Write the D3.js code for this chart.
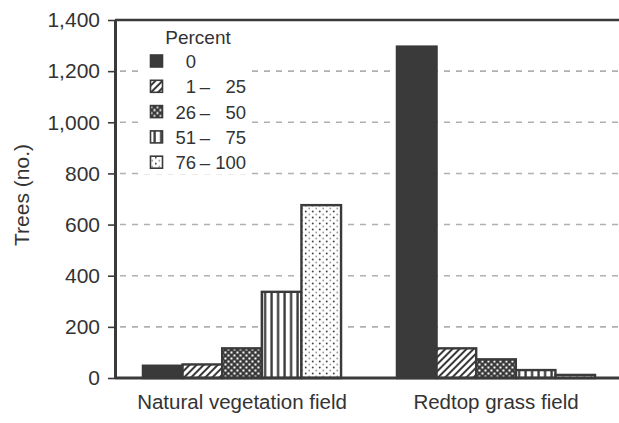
<!DOCTYPE html>
<html>
<head>
<meta charset="utf-8">
<script src="https://cdn.jsdelivr.net/npm/d3@7"></script>
<style>
  html, body { margin: 0; padding: 0; background: #fff; }
  svg text { font-family: "Liberation Sans", Arial, Helvetica, sans-serif; fill: #333; }
</style>
</head>
<body>
<div id="chart"></div>
<script>
const groups = ['Natural vegetation field', 'Redtop grass field'];
const categories = ['0', '1-25', '26-50', '51-75', '76-100'];
const legendLow = ['0', '1', '26', '51', '76'];
const legendHigh = ['', '25', '50', '75', '100'];
const naturalValues = [48, 53, 116, 337, 676];
const redtopValues = [1296, 116, 73, 31, 12];
const yTicks = [0, 200, 400, 600, 800, 1000, 1200, 1400];

const width = 619;
const height = 423;
const margin = { top: 20, right: 0, bottom: 45, left: 115 };
const ink = '#3a3a3a';

const svg = d3.select('#chart').append('svg').attr('width', width).attr('height', height);

/* Patterns
=========================================================================*/
const defs = svg.append('defs');
const fills = ['solid', 'hatch', 'checks', 'vlines', 'dots'];

const hatch = defs.append('pattern').attr('id', 'hatch').attr('patternUnits', 'userSpaceOnUse')
  .attr('width', 5).attr('height', 5).attr('patternTransform', 'rotate(45)');
hatch.append('rect').attr('width', 5).attr('height', 5).attr('fill', '#fff');
hatch.append('rect').attr('width', 2).attr('height', 5).attr('fill', ink);

const checks = defs.append('pattern').attr('id', 'checks').attr('patternUnits', 'userSpaceOnUse')
  .attr('width', 6).attr('height', 6);
checks.append('rect').attr('width', 6).attr('height', 6).attr('fill', ink);
checks.append('rect').attr('x', 0.5).attr('y', 0.5).attr('width', 2).attr('height', 2).attr('fill', '#fff');
checks.append('rect').attr('x', 3.5).attr('y', 3.5).attr('width', 2).attr('height', 2).attr('fill', '#fff');

const vlines = defs.append('pattern').attr('id', 'vlines').attr('patternUnits', 'userSpaceOnUse')
  .attr('width', 6.5).attr('height', 6.5);
vlines.append('rect').attr('width', 6.5).attr('height', 6.5).attr('fill', '#fff');
vlines.append('rect').attr('x', 4).attr('width', 2.3).attr('height', 6.5).attr('fill', ink);

const dots = defs.append('pattern').attr('id', 'dots').attr('patternUnits', 'userSpaceOnUse')
  .attr('width', 7).attr('height', 6);
dots.append('rect').attr('width', 7).attr('height', 6).attr('fill', '#fff');
dots.append('circle').attr('cx', 1.8).attr('cy', 1.5).attr('r', 0.9).attr('fill', ink);
dots.append('circle').attr('cx', 5.3).attr('cy', 4.5).attr('r', 0.9).attr('fill', '#999');

const fillFor = (i) => (fills[i] === 'solid' ? ink : `url(#${fills[i]})`);

/* Scales
=========================================================================*/
const yScale = d3.scaleLinear().domain([0, 1400]).range([378, margin.top]);
const x0 = d3.scaleBand().domain(groups).range([margin.left, 623]).paddingInner(0.22).paddingOuter(0.11);
const x1 = d3.scaleBand().domain(categories).range([0, x0.bandwidth()]);

/* Grid
=========================================================================*/
svg.append('g')
  .selectAll('line')
  .data(yTicks.filter((t) => t > 0 && t < 1400))
  .enter()
  .append('line')
  .attr('x1', margin.left + 5)
  .attr('x2', width)
  .attr('y1', (d) => yScale(d))
  .attr('y2', (d) => yScale(d))
  .attr('stroke', '#b0b0b0')
  .attr('stroke-width', 1.6)
  .attr('stroke-dasharray', '6,6');

/* Bars
=========================================================================*/
const series = [naturalValues, redtopValues];

svg.append('g')
  .selectAll('g')
  .data(groups)
  .enter()
  .append('g')
  .attr('transform', (g) => `translate(${x0(g)},0)`)
  .selectAll('rect')
  .data((g, gi) => series[gi].map((v, i) => ({ v, i })))
  .enter()
  .append('rect')
  .attr('x', (d) => x1(categories[d.i]))
  .attr('y', (d) => yScale(d.v))
  .attr('width', x1.bandwidth())
  .attr('height', (d) => yScale(0) - yScale(d.v))
  .attr('fill', (d) => fillFor(d.i))
  .attr('stroke', ink)
  .attr('stroke-width', 2.4);

/* Axes
=========================================================================*/
const yAxis = d3.axisLeft(yScale).tickValues(yTicks).tickFormat(d3.format(',')).tickSize(7).tickPadding(8).tickSizeOuter(0);

const yG = svg.append('g').attr('transform', `translate(${margin.left},0)`).call(yAxis);
yG.attr('font-family', null);
yG.select('.domain').attr('stroke', ink).attr('stroke-width', 3);
yG.selectAll('.tick line').attr('stroke', ink).attr('stroke-width', 1.6);
yG.selectAll('.tick text').attr('font-size', 21).attr('fill', '#333');

// frame top + baseline
svg.append('line').attr('x1', margin.left).attr('x2', width).attr('y1', yScale(1400)).attr('y2', yScale(1400))
  .attr('stroke', ink).attr('stroke-width', 2.5);
svg.append('line').attr('x1', margin.left).attr('x2', width).attr('y1', yScale(0)).attr('y2', yScale(0))
  .attr('stroke', ink).attr('stroke-width', 3);

svg.append('g')
  .selectAll('text')
  .data(groups)
  .enter()
  .append('text')
  .attr('x', (g) => x0(g) + x0.bandwidth() / 2)
  .attr('y', 409)
  .attr('text-anchor', 'middle')
  .attr('font-size', 20.5)
  .text((g) => g);

svg.append('text')
  .attr('transform', 'translate(29,195) rotate(-90)')
  .attr('text-anchor', 'middle')
  .attr('font-size', 21)
  .text('Trees (no.)');

/* Legend
=========================================================================*/
const legend = svg.append('g');
legend.append('rect').attr('x', 140).attr('y', 24).attr('width', 112).attr('height', 150).attr('fill', '#fff');
legend.append('text').attr('x', 198).attr('y', 44).attr('text-anchor', 'middle').attr('font-size', 19).text('Percent');

const rows = legend.selectAll('g.row')
  .data(categories)
  .enter()
  .append('g')
  .attr('class', 'row')
  .attr('transform', (d, i) => `translate(0,${61 + i * 25.3})`);

rows.append('rect')
  .attr('x', 150.5).attr('y', -6).attr('width', 12).attr('height', 12)
  .attr('fill', (d, i) => fillFor(i))
  .attr('stroke', ink).attr('stroke-width', 1.6);

rows.append('text').attr('x', 196).attr('y', 7).attr('text-anchor', 'end').attr('font-size', 18.5)
  .text((d, i) => legendLow[i]);
rows.filter((d, i) => legendHigh[i] !== '').append('text')
  .attr('x', 205).attr('y', 7).attr('text-anchor', 'middle').attr('font-size', 18.5).text('–');
rows.append('text').attr('x', 246).attr('y', 7).attr('text-anchor', 'end').attr('font-size', 18.5)
  .text((d, i) => legendHigh[i]);
</script>
</body>
</html>
